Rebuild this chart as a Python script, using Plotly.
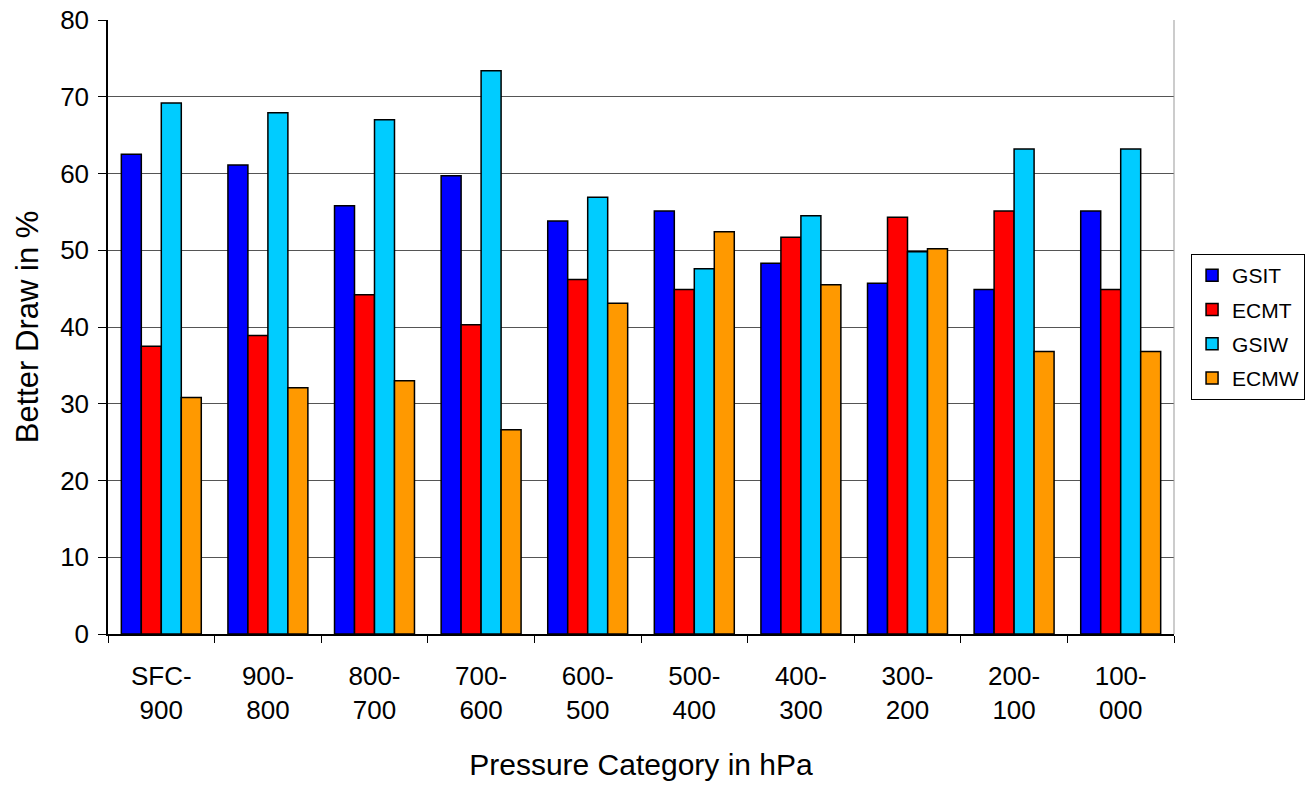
import plotly.graph_objects as go

categories = ["SFC-<br>900", "900-<br>800", "800-<br>700", "700-<br>600", "600-<br>500",
              "500-<br>400", "400-<br>300", "300-<br>200", "200-<br>100", "100-<br>000"]
gsit = [62.5, 61.1, 55.8, 59.7, 53.8, 55.1, 48.3, 45.7, 44.9, 55.1]
ecmt = [37.5, 38.9, 44.2, 40.3, 46.2, 44.9, 51.7, 54.3, 55.1, 44.9]
gsiw = [69.2, 67.9, 67.0, 73.4, 56.9, 47.6, 54.5, 49.8, 63.2, 63.2]
ecmw = [30.8, 32.1, 33.0, 26.6, 43.1, 52.4, 45.5, 50.2, 36.8, 36.8]

series = [("GSIT", gsit, "#0000FF"), ("ECMT", ecmt, "#FF0000"),
          ("GSIW", gsiw, "#00CCFF"), ("ECMW", ecmw, "#FF9900")]

fig = go.Figure()
for name, vals, col in series:
    fig.add_trace(go.Bar(x=categories, y=vals, name=name, legendgroup=name,
                         marker=dict(color=col, line=dict(color="black", width=1.5))))

font = "Liberation Sans, Arial, sans-serif"
fig.update_layout(
    width=1314, height=786,
    margin=dict(l=108, r=140, t=20, b=152, autoexpand=False),
    plot_bgcolor="white", paper_bgcolor="white",
    barmode="group", bargap=0.25, bargroupgap=0,
    font=dict(family=font, color="black"),
    legend=dict(x=1.016, xanchor="left", y=0.5, yanchor="middle",
                bordercolor="black", borderwidth=1, font=dict(size=21),
                traceorder="grouped", tracegroupgap=4, itemwidth=30),
    xaxis=dict(title=dict(text="Pressure Category in hPa", font=dict(size=30), standoff=30),
               tickfont=dict(size=26), showline=True, linecolor="black", linewidth=1.5,
               ticks="outside", ticklen=7, tickcolor="black", tickson="boundaries",
               ticklabelstandoff=18, automargin=False),
    yaxis=dict(title=dict(text="Better Draw in %", font=dict(size=31), standoff=12),
               range=[0, 80], dtick=10, tickfont=dict(size=26),
               showline=True, linecolor="black", linewidth=1.5,
               ticks="outside", ticklen=8, tickcolor="black", ticklabelstandoff=4,
               showgrid=True, gridcolor="#555555", gridwidth=1, zeroline=False,
               automargin=False),
)
fig.add_shape(type="line", xref="paper", yref="paper", x0=1, x1=1, y0=0, y1=1,
              line=dict(color="#999999", width=1))
fig.write_html("out.html")
